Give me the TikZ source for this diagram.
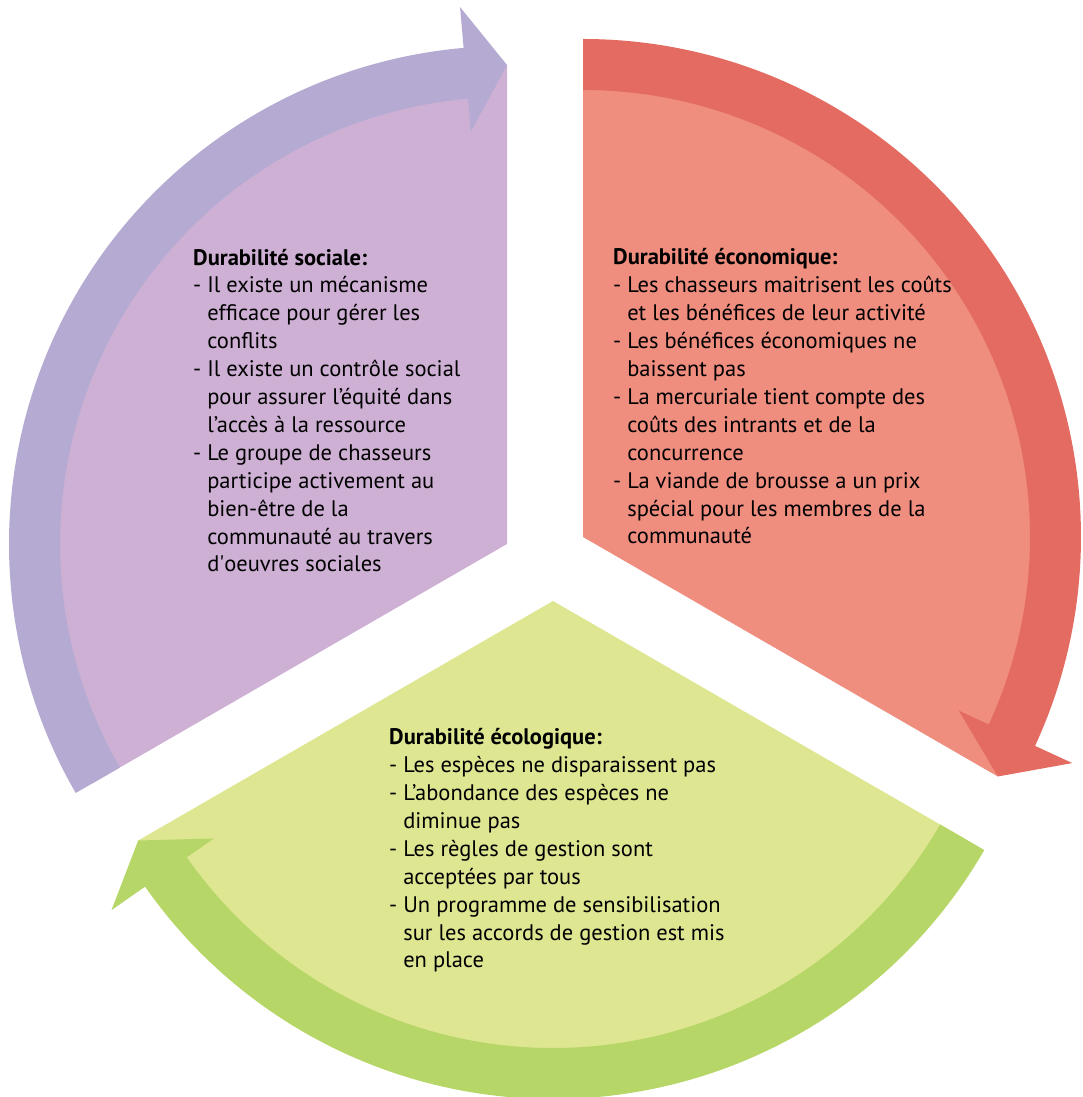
\documentclass[tikz,border=0pt]{standalone}
\usepackage{fontspec}
\setmainfont{PT Sans}
\usepackage{tikz}
\usetikzlibrary{calc}
\definecolor{socialband}{RGB}{180,170,210}
\definecolor{socialfill}{RGB}{206,176,213}
\definecolor{econband}{RGB}{228,107,98}
\definecolor{econfill}{RGB}{239,141,127}
\definecolor{ecoloband}{RGB}{183,214,104}
\definecolor{ecolofill}{RGB}{222,230,146}
\newcommand{\hang}{\phantom{- }}

\begin{document}
\begin{tikzpicture}[x=1pt, y=1pt,
		txt/.style={anchor=base west, align=left, inner sep=0pt, font=\fontsize{22.5}{27.9}\selectfont}]
		\useasboundingbox (0, 0) rectangle (1083, 1097);

		% corners of the three parts
		\coordinate (sv) at (507, 553);
		\coordinate (ev) at (583, 560);
		\coordinate (gv) at (553, 496);

		% sociale
		\fill[socialfill] (sv) -- ($(sv)+(90:479)$) arc[start angle=90, end angle=210, radius=479] -- cycle;
		\fill[socialband] ($(sv)+(210:498)$) arc[start angle=210, end angle=95, radius=498]
			-- ($(sv)+(95:539)$) -- ($(sv)+(90:479)$) -- ($(sv)+(95:414)$) -- ($(sv)+(95:447)$)
			arc[start angle=95, end angle=210, radius=447] -- cycle;

		% economique
		\fill[econfill] (ev) -- ($(ev)+(90:479)$) arc[start angle=90, end angle=-30, radius=479] -- cycle;
		\fill[econband] ($(ev)+(90:498)$) arc[start angle=90, end angle=-24.8, radius=498]
			-- ($(ev)+(-24.8:539)$) -- ($(ev)+(-30:479)$) -- ($(ev)+(-24.8:414)$) -- ($(ev)+(-24.8:447)$)
			arc[start angle=-24.8, end angle=90, radius=447] -- cycle;

		% ecologique
		\fill[ecolofill] (gv) -- ($(gv)+(210:479)$) arc[start angle=210, end angle=330, radius=479] -- cycle;
		\fill[ecoloband] ($(gv)+(330:498)$) arc[start angle=330, end angle=215, radius=498]
			-- ($(gv)+(215:539)$) -- ($(gv)+(210:479)$) -- ($(gv)+(215:414)$) -- ($(gv)+(215:447)$)
			arc[start angle=215, end angle=330, radius=447] -- cycle;

		% texts, placed by the baseline of their last line
		\node[txt] at (193, 525) (sociale) {\textbf{Durabilité sociale:}\\
			- Il existe un mécanisme\\
			\hang efficace pour gérer les\\
			\hang conflits\\
			- Il existe un contrôle social\\
			\hang pour assurer l’équité dans\\
			\hang l’accès à la ressource\\
			- Le groupe de chasseurs\\
			\hang participe activement au\\
			\hang bien-être de la\\
			\hang communauté au travers\\
			\hang d\textquotesingle oeuvres sociales};

		\node[txt] at (613, 553) (economique) {\textbf{Durabilité économique:}\\
			- Les chasseurs maitrisent les coûts\\
			\hang et les bénéfices de leur activité\\
			- Les bénéfices économiques ne\\
			\hang baissent pas\\
			- La mercuriale tient compte des\\
			\hang coûts des intrants et de la\\
			\hang concurrence\\
			- La viande de brousse a un prix\\
			\hang spécial pour les membres de la\\
			\hang communauté};

		\node[txt] at (389, 129) (ecologique) {\textbf{Durabilité écologique:}\\
			- Les espèces ne disparaissent pas\\
			- L’abondance des espèces ne\\
			\hang diminue pas\\
			- Les règles de gestion sont\\
			\hang acceptées par tous\\
			- Un programme de sensibilisation\\
			\hang sur les accords de gestion est mis\\
			\hang en place};
	\end{tikzpicture}
\end{document}
